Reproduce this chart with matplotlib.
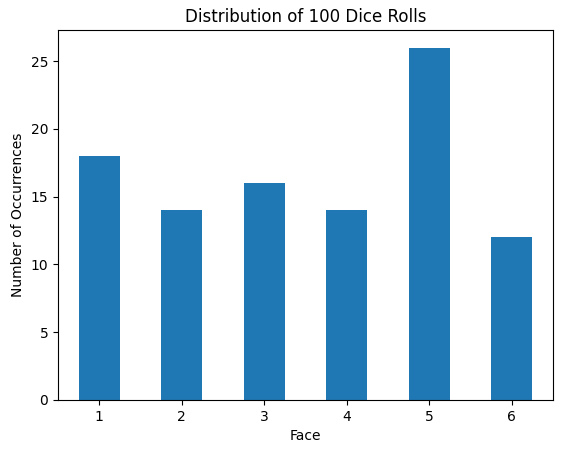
import matplotlib
matplotlib.use("Agg")
import matplotlib.pyplot as plt

faces = [1, 2, 3, 4, 5, 6]
counts = [18, 14, 16, 14, 26, 12]

fig = plt.figure(figsize=(5.63, 4.53), dpi=100)
ax = fig.add_subplot()
fig.subplots_adjust(left=0.103, right=0.982, top=0.934, bottom=0.117)

ax.bar([str(f) for f in faces], counts, width=0.5, color="#1f77b4")
ax.set_xlim(-0.5, len(faces) - 0.5)
ax.set_title("Distribution of 100 Dice Rolls")
ax.set_xlabel("Face")
ax.set_ylabel("Number of Occurrences")

fig.savefig("out.png", dpi=100)
